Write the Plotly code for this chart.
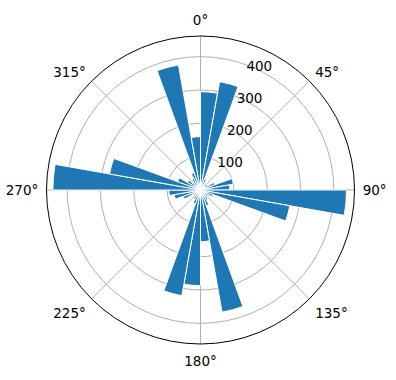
import plotly.graph_objects as go

# bin start angles (degrees, clockwise from north), 10-degree bins
bin_starts = list(range(0, 360, 10))
counts = [295, 330, 35, 20, 15, 25, 45, 100, 88,
          438, 272, 40, 30, 20, 35, 50, 372, 155,
          287, 322, 45, 30, 20, 25, 55, 80, 95,
          443, 277, 73, 45, 30, 40, 55, 381, 160]
bin_width = 10
r_ticks = [100, 200, 300, 400]
theta_ticks = [0, 45, 90, 135, 180, 225, 270, 315]
theta_labels = [f"{t}°" for t in theta_ticks]

centers = [b + bin_width / 2 for b in bin_starts]

fig = go.Figure(go.Barpolar(
    r=counts, theta=centers, width=[bin_width] * len(counts),
    marker=dict(color="#1f77b4", line=dict(color="white", width=1)),
))

font = dict(family="DejaVu Sans", size=13.5, color="black")
fig.update_layout(
    width=396, height=380, margin=dict(l=0, r=0, t=0, b=0),
    paper_bgcolor="white", showlegend=False, font=font,
    polar=dict(
        domain=dict(x=[46.5 / 396, 354.5 / 396], y=[1 - 344 / 380, 1 - 36 / 380]),
        bgcolor="white",
        bargap=0,
        radialaxis=dict(range=[0, 462], tickvals=r_ticks, showline=False,
                        gridcolor="#b0b0b0", gridwidth=1, angle=73,
                        tickangle=73, ticks="", layer="above traces",
                        tickfont=font),
        angularaxis=dict(direction="clockwise", rotation=90,
                         tickvals=theta_ticks, ticktext=theta_labels,
                         showline=True, linecolor="black", linewidth=1,
                         gridcolor="#b0b0b0", gridwidth=1,
                         ticks="outside", ticklen=5, tickcolor="rgba(0,0,0,0)",
                         layer="above traces", tickfont=font),
    ),
)
fig.write_html("out.html")
